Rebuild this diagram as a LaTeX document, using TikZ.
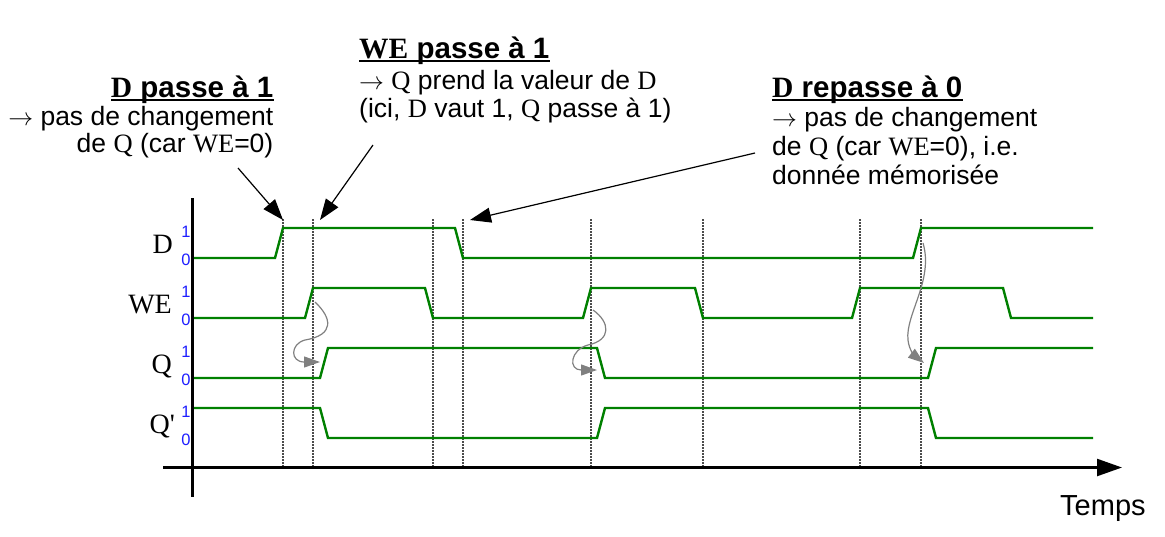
\documentclass[tikz,border=0pt]{standalone}
\usepackage{fontspec}
\setmainfont{Liberation Sans}
\newfontfamily\tms{Liberation Serif}
\usetikzlibrary{arrows.meta}
\definecolor{wgreen}{RGB}{0,128,0}
\definecolor{lblue}{RGB}{30,30,255}
\begin{document}
\begin{tikzpicture}[x=1pt,y=-1pt,
  wave/.style={wgreen, line width=2.4pt, line join=miter},
  guide/.style={gray!60!black, line width=1.2pt, dash pattern=on 1.5pt off 1.5pt},
  axisline/.style={black, line width=2.4pt},
  note/.style={black, line width=1.2pt, -{Triangle[length=21pt,width=15pt]}},
  causal/.style={gray, line width=1.2pt, -{Triangle[length=16pt,width=11pt]}},
  sig/.style={font=\tms\fontsize{28}{30}\selectfont, inner sep=0pt, anchor=base east},
  lvl/.style={font=\fontsize{16.5}{18}\selectfont, text=lblue, inner sep=0pt},
  ttl/.style={font=\fontsize{29.5}{34}\selectfont\bfseries, inner sep=0pt},
  body/.style={font=\fontsize{26.5}{30}\selectfont, inner sep=0pt},
  uline/.style={black, line width=2pt},
]
\useasboundingbox (0,0) rectangle (1165,536);

% guides
\foreach \gx in {283,313,433,463,591,703,860,921}
  \draw[guide] (\gx,219) -- (\gx,467);

% waveforms
\draw[wave] (192,258) -- (275,258) -- (283,228) -- (455,228) -- (463,258) -- (913,258) -- (921,228) -- (1093,228);
\draw[wave] (192,318) -- (305,318) -- (313,288) -- (425,288) -- (433,318) -- (583,318) -- (591,288) -- (695,288) -- (703,318) -- (852,318) -- (860,288) -- (1003,288) -- (1011,318) -- (1093,318);
\draw[wave] (192,378) -- (320,378) -- (328,348) -- (597,348) -- (605,378) -- (928,378) -- (936,348) -- (1093,348);
\draw[wave] (192,408) -- (320,408) -- (328,438) -- (597,438) -- (605,408) -- (928,408) -- (936,438) -- (1093,438);

% axes
\draw[axisline] (192.5,198) -- (192.5,497);
\draw[axisline, -{Triangle[length=25pt,width=17pt]}] (163,467.5) -- (1122,467.5);

% signal names
\node[sig] (sD) at (173,253) {D};
\node[sig] (sWE) at (172,313) {WE};
\node[sig] (sQ) at (172,373) {Q};
\node[sig] (sQp) at (175,433) {Q'};

% level labels
\node[lvl] (d1) at (186,232) {1};
\node[lvl] (d0) at (186,260) {0};
\node[lvl] (w1) at (186,292) {1};
\node[lvl] (w0) at (186,320) {0};
\node[lvl] (q1) at (186,352) {1};
\node[lvl] (q0) at (186,380) {0};
\node[lvl] (p1) at (186,412) {1};
\node[lvl] (p0) at (186,440) {0};

% causal arrows
\draw[causal] (315,302) .. controls (332,318) and (335,335) .. (305,340) .. controls (290,344) and (290,362) .. (320,362);
\draw[causal] (593,310) .. controls (610,322) and (612,340) .. (588,345) .. controls (570,350) and (568,370) .. (597,370);
\draw[causal] (923,243) .. controls (934,280) and (905,315) .. (908,340) .. controls (909,350) and (915,356) .. (924,363);

% annotation block 1
\node[ttl, anchor=base east] (t1a) at (273.5,97) {{\tms D} passe à 1};
\draw[uline] ([yshift=-3pt]t1a.base west) -- ([yshift=-3pt]t1a.base east);
\node[body, anchor=base east] (t1b) at (273.5,125) {$\rightarrow$ pas de changement};
\node[body, anchor=base east] (t1c) at (273.5,152) {de {\tms Q} (car {\tms WE}=0)};

% annotation block 2
\node[ttl, anchor=base west] (t2a) at (359,58) {{\tms WE} passe à 1};
\draw[uline] ([yshift=-3pt]t2a.base west) -- ([yshift=-3pt]t2a.base east);
\node[body, anchor=base west] (t2b) at (359,89) {$\rightarrow$ {\tms Q} prend la valeur de {\tms D}};
\node[body, anchor=base west] (t2c) at (359,117) {(ici, {\tms D} vaut 1, {\tms Q} passe à 1)};

% annotation block 3
\node[ttl, anchor=base west] (t3a) at (772,97) {{\tms D} repasse à 0};
\draw[uline] ([yshift=-3pt]t3a.base west) -- ([yshift=-3pt]t3a.base east);
\node[body, anchor=base west] (t3b) at (772,126) {$\rightarrow$ pas de changement};
\node[body, anchor=base west] (t3c) at (772,155) {de {\tms Q} (car {\tms WE}=0), i.e.};
\node[body, anchor=base west] (t3d) at (772,184) {donnée mémorisée};

% annotation arrows
\coordinate (a1s) at (238,168);
\coordinate (a1e) at (283,220);
\coordinate (a2s) at (373,145);
\coordinate (a2e) at (320,220);
\coordinate (a3s) at (755,153);
\coordinate (a3e) at (470,220);
\draw[note] (a1s) -- (a1e);
\draw[note] (a2s) -- (a2e);
\draw[note] (a3s) -- (a3e);

% time label
\node[font=\fontsize{29}{32}\selectfont, inner sep=0pt, anchor=base west] (temps) at (1060,515) {Temps};
\end{tikzpicture}
\end{document}
